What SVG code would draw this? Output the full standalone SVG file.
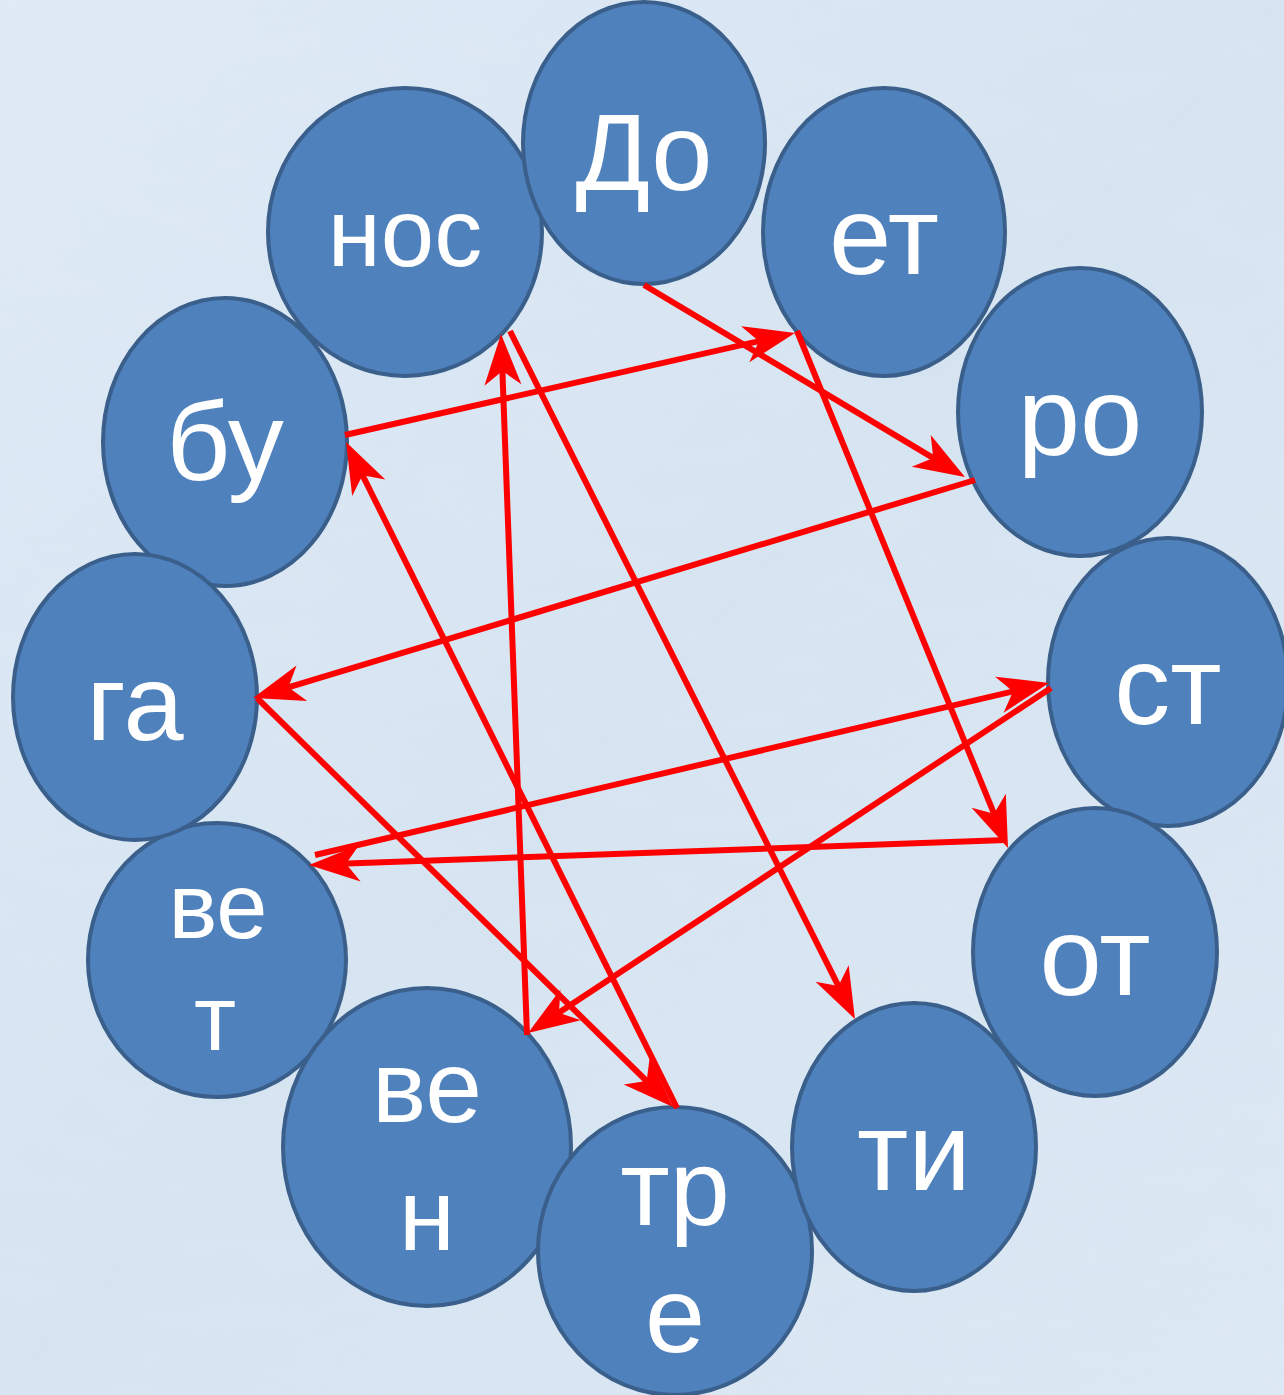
<svg xmlns="http://www.w3.org/2000/svg" width="1284" height="1395" viewBox="0 0 1284 1395">
<defs>
<style>
.n{fill:#4F81BD;stroke:#3A5F8B;stroke-width:4}
.t{fill:#FFFFFF;font-family:"Liberation Sans",Arial,sans-serif;text-anchor:middle}
.c{stroke:#FF0000;stroke-width:6;fill:none;stroke-linecap:butt}
</style>
<linearGradient id="bg" x1="0" y1="0" x2="1" y2="1">
<stop offset="0" stop-color="#dfeaf6"/>
<stop offset="0.5" stop-color="#d6e4f1"/>
<stop offset="1" stop-color="#dce8f4"/>
</linearGradient>
<filter id="tex" x="0" y="0" width="100%" height="100%">
<feTurbulence type="fractalNoise" baseFrequency="0.012 0.03" numOctaves="3" seed="4"/>
<feColorMatrix type="matrix" values="0 0 0 0 0.75  0 0 0 0 0.82  0 0 0 0 0.9  0 0 0 0.9 -0.35"/>
</filter>
<marker id="ah" viewBox="-45 -20 60 40" refX="0" refY="0" markerWidth="60" markerHeight="40" markerUnits="userSpaceOnUse" orient="auto" overflow="visible">
<path d="M10,0 L-41,-18.5 L-27,0 L-41,18.5 Z" fill="#FF0000"/>
</marker>
</defs>
<rect width="1284" height="1395" fill="url(#bg)"/>
<rect width="1284" height="1395" filter="url(#tex)" opacity="0.5"/>
<g id="node-vet"><ellipse class="n" cx="217" cy="960" rx="129" ry="137"/><text class="t" x="218" y="938" font-size="92">ве</text><text class="t" x="215" y="1050" font-size="92">т</text></g>
<g id="node-ven"><ellipse class="n" cx="427" cy="1147" rx="144" ry="159"/><text class="t" x="427" y="1122" font-size="102">ве</text><text class="t" x="427" y="1250" font-size="102">н</text></g>
<g id="node-tre"><ellipse class="n" cx="675" cy="1251" rx="137" ry="144"/><text class="t" x="675" y="1225" font-size="108">тр</text><text class="t" x="675" y="1352" font-size="108">е</text></g>
<g id="node-ti"><ellipse class="n" cx="914" cy="1147" rx="122" ry="144"/><text class="t" x="914" y="1190" font-size="112">ти</text></g>
<g id="node-st"><ellipse class="n" cx="1168" cy="682" rx="120" ry="144"/><text class="t" x="1168" y="724" font-size="112">ст</text></g>
<g id="node-ot"><ellipse class="n" cx="1095" cy="952" rx="122" ry="144"/><text class="t" x="1095" y="995" font-size="112">от</text></g>
<g id="node-ro"><ellipse class="n" cx="1080" cy="412" rx="122" ry="144"/><text class="t" x="1080" y="455" font-size="112">ро</text></g>
<g id="node-et"><ellipse class="n" cx="884" cy="232" rx="121" ry="144"/><text class="t" x="884" y="274" font-size="112">ет</text></g>
<g id="node-nos"><ellipse class="n" cx="405" cy="232" rx="137" ry="144"/><text class="t" x="405" y="266" font-size="96">нос</text></g>
<g id="node-do"><ellipse class="n" cx="644" cy="143" rx="121" ry="141"/><text class="t" x="644" y="190" font-size="110">До</text></g>
<g id="node-bu"><ellipse class="n" cx="225" cy="442" rx="122" ry="144"/><text class="t" x="225" y="480" font-size="112">бу</text></g>
<g id="node-ga"><ellipse class="n" cx="135" cy="697" rx="122" ry="143"/><text class="t" x="135" y="740" font-size="108">га</text></g>
<g id="connectors">
<line class="c" marker-end="url(#ah)" x1="644" y1="285" x2="956.4" y2="471.9"/>
<line class="c" marker-end="url(#ah)" x1="345" y1="435" x2="785.2" y2="335.2"/>
<line class="c" marker-end="url(#ah)" x1="797" y1="331" x2="1004.2" y2="838.7"/>
<line class="c" marker-end="url(#ah)" x1="975" y1="480" x2="262.6" y2="695.1"/>
<line class="c" marker-end="url(#ah)" x1="257" y1="698" x2="665.9" y2="1100"/>
<line class="c" marker-end="url(#ah)" x1="677" y1="1108" x2="350.5" y2="451"/>
<line class="c" marker-end="url(#ah)" x1="510" y1="331" x2="850.5" y2="1010.1"/>
<line class="c" marker-end="url(#ah)" x1="527" y1="1035" x2="501.4" y2="344"/>
<line class="c" marker-end="url(#ah)" x1="1051" y1="688" x2="536.4" y2="1027.5"/>
<line class="c" marker-end="url(#ah)" x1="315" y1="855" x2="1039.3" y2="685.3"/>
<line class="c" marker-end="url(#ah)" x1="1006" y1="840" x2="319" y2="864.6"/>
</g>
</svg>
